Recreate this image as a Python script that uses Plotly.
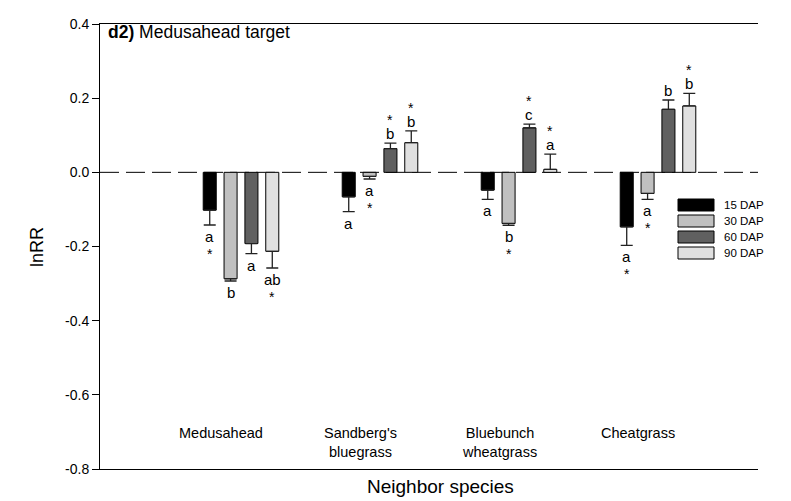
import plotly.graph_objects as go

# ---------------- data ----------------
categories = ["Medusahead", "Sandberg's<br>bluegrass", "Bluebunch<br>wheatgrass", "Cheatgrass"]
series = ["15 DAP", "30 DAP", "60 DAP", "90 DAP"]

mean_15 = [-0.102, -0.066, -0.048, -0.147]
mean_30 = [-0.287, -0.011, -0.138, -0.057]
mean_60 = [-0.192, 0.064, 0.120, 0.170]
mean_90 = [-0.213, 0.080, 0.008, 0.179]

err_15 = [0.040, 0.040, 0.025, 0.050]
err_30 = [0.006, 0.007, 0.005, 0.016]
err_60 = [0.027, 0.015, 0.010, 0.025]
err_90 = [0.045, 0.032, 0.041, 0.034]

letters_15 = ["a", "a", "a", "a"]
letters_30 = ["b", "a", "b", "a"]
letters_60 = ["a", "b", "c", "b"]
letters_90 = ["ab", "b", "a", "b"]

star_15 = [True, False, False, True]
star_30 = [False, True, True, True]
star_60 = [False, True, True, False]
star_90 = [True, True, True, True]

y_ticks = [-0.8, -0.6, -0.4, -0.2, 0.0, 0.2, 0.4]
y_tick_labels = [f"{v:.1f}" for v in y_ticks]

means = [mean_15, mean_30, mean_60, mean_90]
errs = [err_15, err_30, err_60, err_90]
letters = [letters_15, letters_30, letters_60, letters_90]
stars = [star_15, star_30, star_60, star_90]
colors = ["#000000", "#c0c0c0", "#606060", "#e0e0e0"]

FONT = "Liberation Sans, Arial, sans-serif"

# ---------------- layout geometry (pixels) ----------------
W, H = 791, 501
L, R, T, B = 100, 758, 24, 469
pw, ph = R - L, B - T

def px_x(p):
    return (p - L) / pw

def px_y(p):
    return (B - p) / ph

xpos = list(range(len(categories)))
bargap = 0.4
slot = (1 - bargap) / len(series)

fig = go.Figure()
for k, name in enumerate(series):
    plus = [e if m >= 0 else 0 for m, e in zip(means[k], errs[k])]
    minus = [e if m < 0 else 0 for m, e in zip(means[k], errs[k])]
    fig.add_trace(go.Bar(
        x=xpos, y=means[k], name=name,
        marker=dict(color=colors[k], line=dict(color="#000000", width=1)),
        error_y=dict(type="data", symmetric=False, array=plus, arrayminus=minus,
                     color="#222222", thickness=1.3, width=6),
        showlegend=False,
    ))

annotations = []
shapes = []

# letters & asterisks
for k in range(len(series)):
    off = (k - (len(series) - 1) / 2) * slot
    for i in range(len(categories)):
        m = means[k][i]
        e = errs[k][i]
        xa = xpos[i] + off
        if m < 0:
            yend = m - e
            annotations.append(dict(x=xa, y=yend, xref="x", yref="y", text=letters[k][i],
                                    showarrow=False, yanchor="top", yshift=-1,
                                    font=dict(family=FONT, size=15, color="#000")))
            if stars[k][i]:
                annotations.append(dict(x=xa, y=yend, xref="x", yref="y", text="*",
                                        showarrow=False, yanchor="top", yshift=-19,
                                        font=dict(family=FONT, size=14, color="#000")))
        else:
            yend = m + e
            annotations.append(dict(x=xa, y=yend, xref="x", yref="y", text=letters[k][i],
                                    showarrow=False, yanchor="bottom", yshift=-1,
                                    font=dict(family=FONT, size=15, color="#000")))
            if stars[k][i]:
                annotations.append(dict(x=xa, y=yend, xref="x", yref="y", text="*",
                                        showarrow=False, yanchor="bottom", yshift=13,
                                        font=dict(family=FONT, size=14, color="#000")))

# category labels inside the plot
for i, c in enumerate(categories):
    annotations.append(dict(x=xpos[i], y=px_y(423), xref="x", yref="paper", text=c,
                            showarrow=False, yanchor="top", xanchor="center", xshift=-20,
                            align="center",
                            font=dict(family=FONT, size=14.5, color="#000")))

# panel title
annotations.append(dict(x=px_x(106), y=px_y(32), xref="paper", yref="paper",
                        text="<b>d2)</b> Medusahead target", showarrow=False,
                        xanchor="left", yanchor="middle",
                        font=dict(family=FONT, size=17.5, color="#000")))
# axis titles
annotations.append(dict(x=px_x(440), y=px_y(487), xref="paper", yref="paper",
                        text="Neighbor species", showarrow=False,
                        xanchor="center", yanchor="middle",
                        font=dict(family=FONT, size=19, color="#000")))
annotations.append(dict(x=px_x(37), y=px_y(247), xref="paper", yref="paper",
                        text="lnRR", showarrow=False, textangle=-90,
                        xanchor="center", yanchor="middle",
                        font=dict(family=FONT, size=18, color="#000")))

# custom legend
leg_rows = [205, 221, 237, 253]
for k, name in enumerate(series):
    yc = leg_rows[k]
    shapes.append(dict(type="rect", xref="paper", yref="paper",
                       x0=px_x(678), x1=px_x(714), y0=px_y(yc + 6), y1=px_y(yc - 6),
                       fillcolor=colors[k], line=dict(color="#000", width=1)))
    annotations.append(dict(x=px_x(722), y=px_y(yc), xref="paper", yref="paper",
                            text=name, showarrow=False, xanchor="left", yanchor="middle",
                            font=dict(family=FONT, size=11.5, color="#000")))

# dashed zero line
shapes.append(dict(type="line", xref="paper", yref="y", x0=0, x1=1, y0=0, y1=0,
                   layer="below", line=dict(color="#000", width=1, dash="19px,7px")))

x_lo = -(241 - L) / 139.0
x_hi = x_lo + pw / 139.0

fig.update_layout(
    width=W, height=H,
    margin=dict(l=L, r=W - R, t=T, b=H - B),
    paper_bgcolor="white", plot_bgcolor="white",
    barmode="group", bargap=bargap, bargroupgap=0.375,
    font=dict(family=FONT, color="#000"),
    annotations=annotations, shapes=shapes,
    xaxis=dict(range=[x_lo, x_hi], showticklabels=False, ticks="", showgrid=False,
               zeroline=False, showline=True, mirror=True, linecolor="#000", linewidth=1),
    yaxis=dict(range=[-0.8, 0.4], tickvals=y_ticks, ticktext=y_tick_labels, ticks="outside",
               ticklen=7, tickcolor="#000", tickwidth=1, showgrid=False, zeroline=False,
               showline=True, linecolor="#000", linewidth=1,
               tickfont=dict(family=FONT, size=14, color="#000")),
)

fig.write_html("out.html")
